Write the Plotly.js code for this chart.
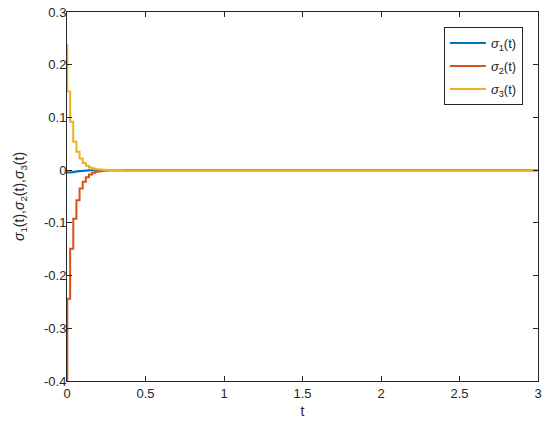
<!DOCTYPE html>
<html>
<head>
<meta charset="utf-8">
<script src="https://cdn.plot.ly/plotly-3.0.1.min.js"></script>
<style>html,body{margin:0;padding:0;background:#fff;}#chart{width:550px;height:433px;}</style>
</head>
<body>
<div id="chart"></div>
<script>
// step instants (s)
var t = [0, 0.002, 0.02, 0.04, 0.06, 0.08, 0.10, 0.12, 0.14, 0.16, 0.18, 0.20, 0.22, 0.24, 0.26, 0.28, 0.30, 0.35, 3];
// sigma_1(t)
var sigma1 = [-0.004, -0.0045, -0.004, -0.003, -0.0022, -0.0015, -0.001, -0.0006, -0.0004, -0.0002, -0.0001, -0.00005, 0, 0, 0, 0, 0, 0, 0];
// sigma_2(t)
var sigma2 = [-0.40, -0.244, -0.149, -0.092, -0.057, -0.035, -0.022, -0.0135, -0.0083, -0.0051, -0.0031, -0.0019, -0.0012, -0.0007, -0.0004, -0.0002, -0.0001, -0.00005, 0];
// sigma_3(t)
var sigma3 = [0.237, 0.149, 0.092, 0.054, 0.035, 0.022, 0.0135, 0.0083, 0.0051, 0.0031, 0.0019, 0.0012, 0.0007, 0.0004, 0.0002, 0.0001, 0.00005, 0, 0];
var names = ['<i>σ</i><sub>1</sub>(t)', '<i>σ</i><sub>2</sub>(t)', '<i>σ</i><sub>3</sub>(t)'];
var colors = ['#0072BD', '#D95319', '#EDB120'];
var xTicks = [0, 0.5, 1, 1.5, 2, 2.5, 3];
var xTickText = ['0', '0.5', '1', '1.5', '2', '2.5', '3'];
var yTicks = [-0.4, -0.3, -0.2, -0.1, 0, 0.1, 0.2, 0.3];
var yTickText = ['-0.4', '-0.3', '-0.2', '-0.1', '0', '0.1', '0.2', '0.3'];

var series = [sigma1, sigma2, sigma3];
var data = series.map(function (s, i) {
  return {x: t, y: s, type: 'scatter', mode: 'lines', name: names[i], legendgroup: 'g' + i,
    line: {color: colors[i], width: 2, shape: 'hv'}};
});

var axisCommon = {
  showgrid: false, zeroline: false, showline: true, linecolor: '#262626', linewidth: 1,
  mirror: 'ticks', ticks: 'inside', ticklen: 5, tickcolor: '#262626', tickwidth: 1,
  tickfont: {family: 'Liberation Sans, Arial, sans-serif', size: 13, color: '#262626'}
};

var layout = {
  width: 550, height: 433,
  margin: {l: 67, r: 12, t: 12, b: 52},
  paper_bgcolor: '#fff', plot_bgcolor: '#fff',
  font: {family: 'Liberation Sans, Arial, sans-serif', size: 13, color: '#262626'},
  showlegend: true,
  legend: {x: 0.968, y: 0.959, xanchor: 'right', yanchor: 'top',
    bordercolor: '#262626', borderwidth: 1, bgcolor: '#fff',
    tracegroupgap: 3, itemwidth: 36,
    font: {family: 'Liberation Sans, Arial, sans-serif', size: 13, color: '#262626'}},
  xaxis: Object.assign({}, axisCommon, {range: [0, 3], tickvals: xTicks, ticktext: xTickText,
    title: {text: 't', standoff: 6, font: {size: 14, color: '#262626'}}}),
  yaxis: Object.assign({}, axisCommon, {range: [-0.4, 0.3], tickvals: yTicks, ticktext: yTickText,
    ticklabelstandoff: -3,
    title: {text: '<i>σ</i><sub>1</sub>(t),<i>σ</i><sub>2</sub>(t),<i>σ</i><sub>3</sub>(t)', standoff: 16, font: {size: 14, color: '#262626'}}})
};

Plotly.newPlot('chart', data, layout, {displayModeBar: false, staticPlot: true});
</script>
</body>
</html>
